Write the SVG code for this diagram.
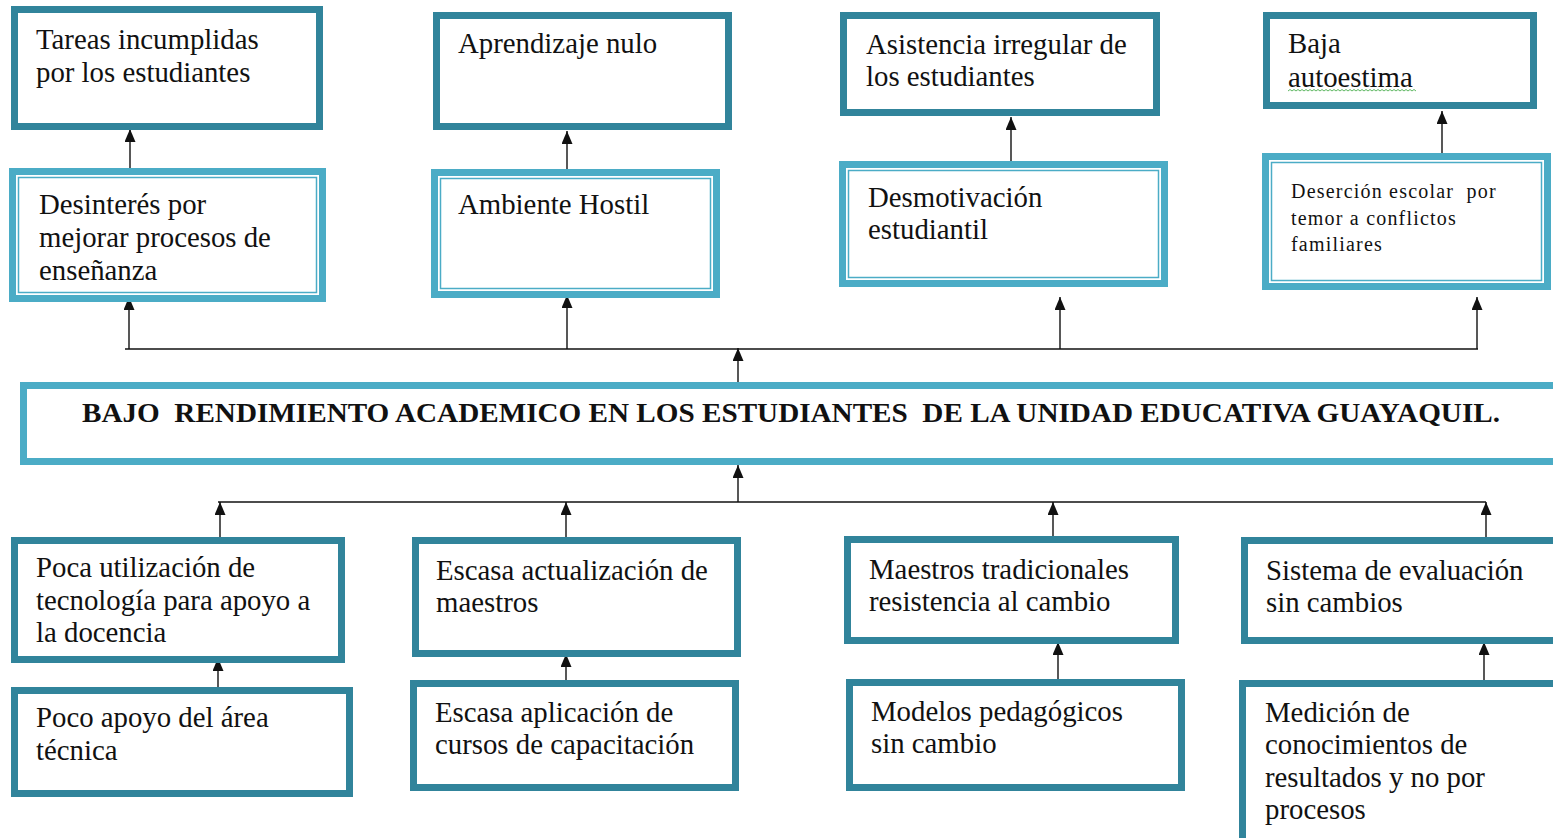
<svg xmlns="http://www.w3.org/2000/svg" width="1553" height="838" viewBox="0 0 1553 838">
<style>
.dk{fill:#fff;stroke:#31849B;stroke-width:7}
.lt{fill:#fff;stroke:#4BACC6;stroke-width:7}
.lti{fill:none;stroke:#4BACC6;stroke-width:1.5}
.t{font-family:"Liberation Serif","Times New Roman",serif;font-size:28.8px;fill:#111}
.s{font-family:"Liberation Serif","Times New Roman",serif;font-size:20px;fill:#111;letter-spacing:1.2px;white-space:pre}
.h{font-family:"Liberation Serif","Times New Roman",serif;font-size:27px;font-weight:bold;fill:#111;white-space:pre}
.c{stroke:#111;stroke-width:1.4;fill:none}
.a{stroke:#111;stroke-width:1.4;fill:none;marker-end:url(#ah)}
</style>
<defs>
<marker id="ah" viewBox="0 0 13 11" refX="13" refY="5.5" markerWidth="13" markerHeight="11" orient="auto" markerUnits="userSpaceOnUse">
<path d="M0,0 L13,5.5 L0,11 z" fill="#111"/>
</marker>
</defs>
<rect width="1553" height="838" fill="#fff"/>

<g id="connectors">
<line class="c" x1="125" y1="349" x2="1478" y2="349"/>
<line class="c" x1="218" y1="502" x2="1486" y2="502"/>
<line class="a" x1="129" y1="349" x2="129" y2="297"/>
<line class="a" x1="567" y1="349" x2="567" y2="295"/>
<line class="a" x1="1060" y1="349" x2="1060" y2="297"/>
<line class="a" x1="1477" y1="349" x2="1477" y2="297"/>
<line class="a" x1="130" y1="168" x2="130" y2="129"/>
<line class="a" x1="567" y1="169" x2="567" y2="131"/>
<line class="a" x1="1011" y1="161" x2="1011" y2="117"/>
<line class="a" x1="1442" y1="153" x2="1442" y2="111"/>
<line class="a" x1="738" y1="383" x2="738" y2="348"/>
<line class="a" x1="738" y1="502" x2="738" y2="465"/>
<line class="a" x1="220" y1="537" x2="220" y2="502"/>
<line class="a" x1="566" y1="537" x2="566" y2="502"/>
<line class="a" x1="1053" y1="536" x2="1053" y2="502"/>
<line class="a" x1="1486" y1="537" x2="1486" y2="502"/>
<line class="a" x1="218" y1="687" x2="218" y2="658"/>
<line class="a" x1="566" y1="680" x2="566" y2="654"/>
<line class="a" x1="1058" y1="679" x2="1058" y2="642"/>
<line class="a" x1="1484" y1="680" x2="1484" y2="642"/>
</g>

<g id="tareas">
<rect class="dk" x="14.5" y="9.5" width="305" height="117"/>
<text class="t" x="36" y="49">Tareas incumplidas</text>
<text class="t" x="36" y="82">por los estudiantes</text>
</g>
<g id="desinteres">
<rect class="lt" x="12.5" y="171.5" width="310" height="127"/>
<rect class="lti" x="18.5" y="177.5" width="298" height="115"/>
<text class="t" x="39" y="214">Desinterés por</text>
<text class="t" x="39" y="247">mejorar procesos de</text>
<text class="t" x="39" y="280">enseñanza</text>
</g>
<g id="aprendizaje">
<rect class="dk" x="436.5" y="15.5" width="292" height="111"/>
<text class="t" x="458" y="53">Aprendizaje nulo</text>
</g>
<g id="ambiente">
<rect class="lt" x="434.5" y="172.5" width="282" height="122"/>
<rect class="lti" x="440.5" y="178.5" width="270" height="110"/>
<text class="t" x="458" y="214">Ambiente Hostil</text>
</g>
<g id="asistencia">
<rect class="dk" x="843.5" y="15.5" width="313" height="97"/>
<text class="t" x="866" y="54">Asistencia irregular de</text>
<text class="t" x="866" y="86">los estudiantes</text>
</g>
<g id="desmotivacion">
<rect class="lt" x="842.5" y="164.5" width="322" height="119"/>
<rect class="lti" x="848.5" y="170.5" width="310" height="107"/>
<text class="t" x="868" y="207">Desmotivación</text>
<text class="t" x="868" y="239">estudiantil</text>
</g>
<g id="baja">
<rect class="dk" x="1266.5" y="15.5" width="267" height="90"/>
<text class="t" x="1288" y="53">Baja</text>
<text class="t" x="1288" y="87">autoestima</text>
<path d="M1288,91 l2,-1.5 l2,1.5 l2,-1.5 l2,1.5 l2,-1.5 l2,1.5 l2,-1.5 l2,1.5 l2,-1.5 l2,1.5 l2,-1.5 l2,1.5 l2,-1.5 l2,1.5 l2,-1.5 l2,1.5 l2,-1.5 l2,1.5 l2,-1.5 l2,1.5 l2,-1.5 l2,1.5 l2,-1.5 l2,1.5 l2,-1.5 l2,1.5 l2,-1.5 l2,1.5 l2,-1.5 l2,1.5 l2,-1.5 l2,1.5 l2,-1.5 l2,1.5 l2,-1.5 l2,1.5 l2,-1.5 l2,1.5 l2,-1.5 l2,1.5 l2,-1.5 l2,1.5 l2,-1.5 l2,1.5 l2,-1.5 l2,1.5 l2,-1.5 l2,1.5 l2,-1.5 l2,1.5 l2,-1.5 l2,1.5 l2,-1.5 l2,1.5 l2,-1.5 l2,1.5 l2,-1.5 l2,1.5 l2,-1.5 l2,1.5 l2,-1.5 l2,1.5 l2,-1.5 l2,1.5" fill="none" stroke="#4caf50" stroke-width="0.9"/>
</g>
<g id="desercion">
<rect class="lt" x="1265.5" y="156.5" width="282" height="130"/>
<rect class="lti" x="1271.5" y="162.5" width="270" height="118"/>
<text class="s" x="1291" y="198" xml:space="preserve">Deserción escolar  por</text>
<text class="s" x="1291" y="225">temor a conflictos</text>
<text class="s" x="1291" y="251">familiares</text>
</g>

<g id="central">
<rect class="lt" x="23.5" y="385.5" width="1560" height="76"/>
<text class="h" x="82" y="422" textLength="1418" lengthAdjust="spacingAndGlyphs" xml:space="preserve">BAJO  RENDIMIENTO ACADEMICO EN LOS ESTUDIANTES  DE LA UNIDAD EDUCATIVA GUAYAQUIL.</text>
</g>

<g id="poca">
<rect class="dk" x="14.5" y="540.5" width="327" height="119"/>
<text class="t" x="36" y="577">Poca utilización de</text>
<text class="t" x="36" y="610">tecnología para apoyo a</text>
<text class="t" x="36" y="642">la docencia</text>
</g>
<g id="pocoapoyo">
<rect class="dk" x="14.5" y="690.5" width="335" height="103"/>
<text class="t" x="36" y="727">Poco apoyo del área</text>
<text class="t" x="36" y="760">técnica</text>
</g>
<g id="escasaact">
<rect class="dk" x="415.5" y="540.5" width="322" height="113"/>
<text class="t" x="436" y="580">Escasa actualización de</text>
<text class="t" x="436" y="612">maestros</text>
</g>
<g id="escasaapl">
<rect class="dk" x="413.5" y="683.5" width="322" height="104"/>
<text class="t" x="435" y="722">Escasa aplicación de</text>
<text class="t" x="435" y="754">cursos de capacitación</text>
</g>
<g id="maestros">
<rect class="dk" x="847.5" y="539.5" width="328" height="101"/>
<text class="t" x="869" y="579">Maestros tradicionales</text>
<text class="t" x="869" y="611">resistencia al cambio</text>
</g>
<g id="modelos">
<rect class="dk" x="849.5" y="682.5" width="332" height="105"/>
<text class="t" x="871" y="721">Modelos pedagógicos</text>
<text class="t" x="871" y="753">sin cambio</text>
</g>
<g id="sistema">
<rect class="dk" x="1244.5" y="540.5" width="320" height="100"/>
<text class="t" x="1266" y="580">Sistema de evaluación</text>
<text class="t" x="1266" y="612">sin cambios</text>
</g>
<g id="medicion">
<rect class="dk" x="1242.5" y="683.5" width="320" height="170"/>
<text class="t" x="1265" y="722">Medición de</text>
<text class="t" x="1265" y="754">conocimientos de</text>
<text class="t" x="1265" y="787">resultados y no por</text>
<text class="t" x="1265" y="819">procesos</text>
</g>
</svg>
